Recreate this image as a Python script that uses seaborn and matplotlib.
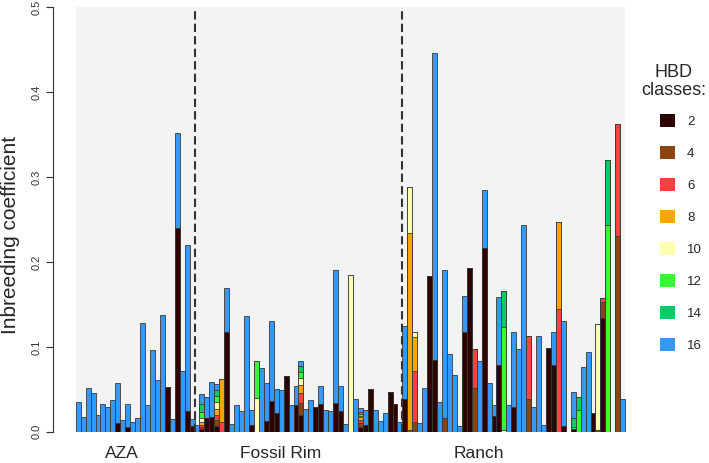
import numpy as np
import pandas as pd
import matplotlib
matplotlib.use("Agg")
import matplotlib.pyplot as plt
import seaborn as sns
from matplotlib.patches import Patch

sns.set_style("white")
plt.rcParams['font.family'] = ['Liberation Sans', 'DejaVu Sans']

# HBD classes and their colours
hbd_classes = ["2", "4", "6", "8", "10", "12", "14", "16"]
hbd_colors = ["#2E0000", "#8B4513", "#FF4040", "#FFA500",
              "#FFFFB2", "#33FF33", "#00CC66", "#3399FF"]

populations = ["AZA", "Fossil Rim", "Ranch"]

# ---- AZA (24 individuals) : only classes 2 and 16 present
aza_2 = [0, 0, 0, 0, 0, 0, 0, 0, .010, 0, .006, 0,
         0, 0, 0, 0, 0, 0, .053, 0, .240, 0, .024, .007]
aza_16 = [.035, .017, .051, .046, .020, .033, .029, .037, .047, .014, .027, .011,
          .016, .128, .031, .096, .061, .138, 0, .015, .112, .071, .196, .008]

# ---- Fossil Rim (42 individuals)
fr_2 = [0, .0027, .0157, .0177, .0071, 0, .117, 0, 0, 0,
        0, .008, 0, 0, .013, .036, .022, 0, .066, 0,
        .031, .020, 0, 0, .029, .033, 0, 0, .034, .024,
        0, 0, 0, .0059, .008, .050, 0, 0, 0, .047,
        .033, 0]
fr_4 = [0, .0031, 0, 0, .0067, 0, 0, 0, 0, 0,
        0, 0, 0, 0, 0, 0, 0, 0, 0, 0,
        0, .0138, 0, 0, 0, 0, 0, 0, 0, 0,
        0, 0, 0, .0047, 0, 0, 0, 0, 0, 0,
        0, 0]
fr_6 = [0, .0024, 0, 0, .0063, .012, 0, 0, 0, 0,
        0, 0, 0, 0, 0, 0, 0, 0, 0, 0,
        0, .0118, 0, 0, 0, 0, 0, 0, 0, 0,
        0, 0, 0, .0031, 0, 0, 0, 0, 0, 0,
        0, 0]
fr_8 = [0, .0035, 0, 0, .0067, .0496, 0, 0, 0, 0,
        0, 0, 0, 0, 0, 0, 0, 0, 0, 0,
        0, .0094, 0, 0, 0, 0, 0, 0, 0, 0,
        0, 0, 0, .0031, 0, 0, 0, 0, 0, 0,
        0, 0]
fr_10 = [0, .0039, 0, 0, .0086, 0, 0, 0, 0, 0,
         0, 0, .040, 0, 0, 0, 0, 0, 0, 0,
         0, .0079, 0, 0, 0, 0, 0, 0, 0, 0,
         0, .185, 0, .0016, 0, 0, 0, 0, 0, 0,
         0, 0]
fr_12 = [0, .0071, 0, 0, .0067, 0, 0, 0, 0, 0,
         0, 0, .043, 0, 0, 0, 0, 0, 0, 0,
         0, .0071, 0, 0, 0, 0, 0, 0, 0, 0,
         0, 0, 0, .0024, 0, 0, 0, 0, 0, 0,
         0, 0]
fr_14 = [0, .0098, 0, 0, .0071, 0, 0, 0, 0, 0,
         0, 0, 0, 0, 0, 0, 0, 0, 0, 0,
         0, .0071, 0, 0, 0, 0, 0, 0, 0, 0,
         0, 0, 0, .0028, 0, 0, 0, 0, 0, 0,
         0, 0]
fr_16 = [.008, .0118, .0255, .0412, .0071, 0, .052, .009, .031, .024,
         .136, .017, 0, .075, .044, .094, .028, .049, 0, .031,
         .023, .0059, .027, .037, 0, .021, .025, .024, .156, .030,
         .009, 0, .038, .0039, .018, 0, .025, .013, .022, 0,
         0, .012]

# ---- Ranch (45 individuals)
ra_2 = [.039, 0, 0, 0, 0, .183, .084, 0, 0, 0,
        0, 0, .117, .193, 0, 0, .217, 0, .019, .078,
        0, 0, .029, 0, 0, 0, 0, 0, 0, .099,
        .079, 0, .007, 0, .003, 0, 0, 0, .022, 0,
        .134, 0, 0, 0, 0]
ra_4 = [0, .002, .012, 0, 0, 0, 0, 0, .016, 0,
        0, 0, 0, 0, .052, 0, 0, 0, 0, 0,
        0, 0, 0, 0, 0, .038, 0, 0, 0, 0,
        0, 0, 0, 0, 0, 0, 0, 0, 0, .002,
        .019, 0, 0, .230, 0]
ra_6 = [0, 0, .060, 0, 0, 0, 0, 0, 0, 0,
        0, 0, 0, 0, .046, 0, 0, 0, 0, 0,
        0, 0, 0, 0, 0, .075, 0, 0, 0, 0,
        0, .145, 0, 0, 0, 0, 0, 0, 0, 0,
        .004, 0, 0, .133, 0]
ra_8 = [0, .232, .040, 0, 0, 0, 0, 0, 0, 0,
        0, 0, 0, 0, 0, 0, 0, 0, 0, 0,
        0, 0, 0, 0, 0, 0, 0, 0, 0, 0,
        0, .102, 0, 0, 0, 0, 0, 0, 0, 0,
        0, 0, 0, 0, 0]
ra_10 = [0, .054, .005, 0, 0, 0, 0, 0, 0, 0,
         0, 0, 0, 0, 0, 0, 0, 0, 0, 0,
         .002, 0, 0, 0, 0, 0, 0, 0, 0, 0,
         0, 0, 0, 0, 0, 0, 0, 0, 0, .125,
         0, 0, 0, 0, 0]
ra_12 = [0, 0, 0, 0, 0, 0, 0, 0, 0, 0,
         0, 0, 0, 0, 0, 0, 0, 0, 0, 0,
         .121, 0, 0, 0, 0, 0, 0, 0, 0, 0,
         0, 0, 0, 0, .003, .026, 0, 0, 0, 0,
         0, .244, 0, 0, 0]
ra_14 = [0, 0, 0, 0, 0, 0, 0, 0, 0, 0,
         0, 0, 0, 0, 0, 0, 0, 0, 0, 0,
         .043, 0, 0, 0, 0, 0, 0, 0, 0, 0,
         0, 0, 0, 0, .010, .015, 0, 0, 0, 0,
         0, .076, 0, 0, 0]
ra_16 = [.085, 0, 0, .010, .051, 0, .362, .035, .175, .092,
         .067, .007, .043, 0, 0, .083, .068, .057, .013, .081,
         0, .032, .089, .098, .243, 0, .029, .113, .008, 0,
         .039, 0, .124, 0, .031, 0, .076, .094, 0, 0,
         0, 0, 0, 0, .038]

n_aza, n_fr, n_ra = len(aza_16), len(fr_16), len(ra_16)
zeros_aza = [0.0] * n_aza

df = pd.DataFrame({
    "2": aza_2 + fr_2 + ra_2,
    "4": zeros_aza + fr_4 + ra_4,
    "6": zeros_aza + fr_6 + ra_6,
    "8": zeros_aza + fr_8 + ra_8,
    "10": zeros_aza + fr_10 + ra_10,
    "12": zeros_aza + fr_12 + ra_12,
    "14": zeros_aza + fr_14 + ra_14,
    "16": aza_16 + fr_16 + ra_16,
})
n = len(df)
df["ind"] = np.arange(n)
cum = df[hbd_classes].cumsum(axis=1)

fig = plt.figure(figsize=(7.09, 4.63), dpi=100)
ax = fig.add_axes([53 / 709, 31.3 / 463, (630 - 53) / 709, 424.4 / 463])

# stacked bars: draw cumulative totals from the top class down
for k in reversed(range(len(hbd_classes))):
    sns.barplot(x=df["ind"], y=cum[hbd_classes[k]], color=hbd_colors[k],
                saturation=1, width=1, edgecolor="#3a3a3a", linewidth=0.6,
                errorbar=None, ax=ax)

ax.axvspan(-0.5, n - 0.5, color="#F3F3F3", zorder=0, lw=0)

# population separators
ax.vlines([n_aza - 0.5, n_aza + n_fr - 0.5], 0, 0.5, colors="#333333",
          linestyles=(0, (4, 2)), linewidth=1.5, zorder=3)

ax.set_xlim(-0.5 - (75.7 - 53) / 4.95, n - 0.5 + (630 - 625.2) / 4.95)
ax.set_ylim(0, 0.5)

for s in ["top", "right", "bottom"]:
    ax.spines[s].set_visible(False)
ax.spines["left"].set_color("#333333")
ax.spines["left"].set_linewidth(0.8)

ax.set_yticks([0, 0.1, 0.2, 0.3, 0.4, 0.5])
ax.set_yticklabels(["0.0", "0.1", "0.2", "0.3", "0.4", "0.5"], rotation=90,
                   va="center", color="#333333")
ax.tick_params(axis="y", left=True, direction="out", length=5, width=0.8,
               color="#333333", labelsize=8, pad=3)

ax.set_xticks([8.8, 40.8, 81.0])
ax.set_xticklabels(populations)
ax.tick_params(axis="x", length=0, labelsize=12.5, pad=10)
ax.set_xlabel("")
ax.set_ylabel("")

fig.text(11 / 709, 0.492, "Inbreeding coefficient", rotation=90,
         ha="center", va="center", fontsize=15)

# legend: title as its own centred text, entries below it
fig.text(674 / 709, 1 - 64 / 463, "HBD\nclasses:", ha="center", va="top",
         multialignment="center", fontsize=13, linespacing=1.05)
handles = [Patch(facecolor=c, edgecolor="none", label=l)
           for c, l in zip(hbd_colors, hbd_classes)]
fig.legend(handles=handles, loc="upper left",
           bbox_to_anchor=(660 / 709, 1 - 114.2 / 463), frameon=False,
           borderpad=0, borderaxespad=0,
           fontsize=9.5, handlelength=1.14, handleheight=1.14,
           labelspacing=1.36, handletextpad=0.9)

fig.savefig("out.png", dpi=100)
